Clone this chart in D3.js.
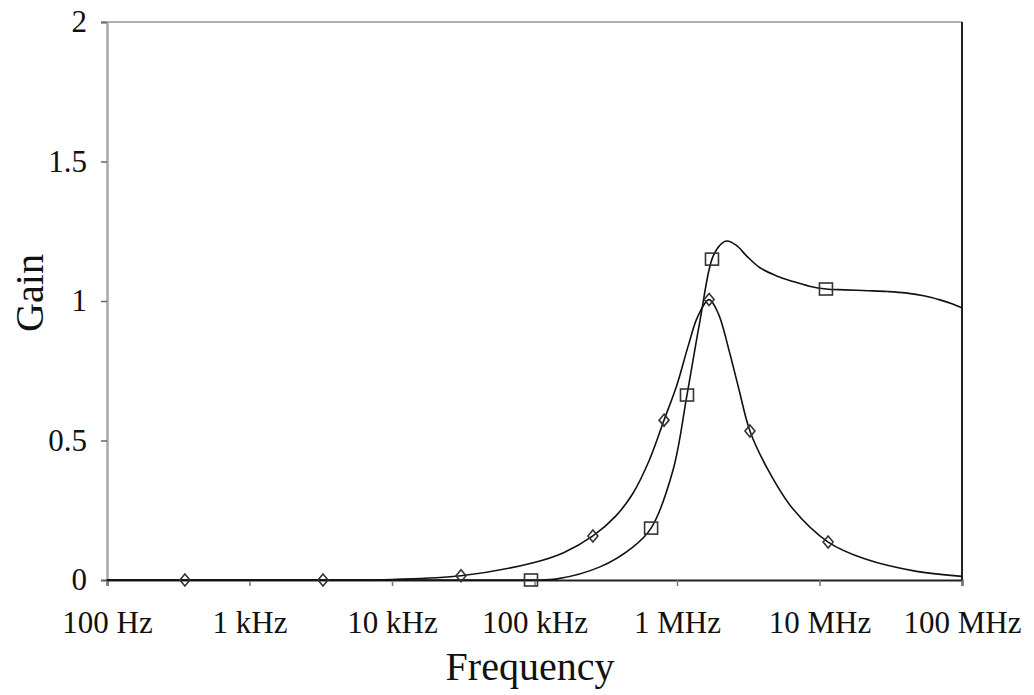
<!DOCTYPE html>
<html>
<head>
<meta charset="utf-8">
<script src="https://cdn.jsdelivr.net/npm/d3@7"></script>
<style>
body { margin: 0; background: #fff; }
</style>
</head>
<body>
<svg id="chart" width="1034" height="695"></svg>
<script>
// x tick values (Hz) and labels
var tickFreqs = [1e2, 1e3, 1e4, 1e5, 1e6, 1e7, 1e8];
var tickLabels = ["100 Hz", "1 kHz", "10 kHz", "100 kHz", "1 MHz", "10 MHz", "100 MHz"];
var gainTicks = [0, 0.5, 1, 1.5, 2];

// diamond series - smoothed curve points [freq, gain]
var diamondCurve = [
	[100, 0], [352, 0], [3280, 0], [10000, 0.002], [30500, 0.015],
	[98000, 0.062], [160000, 0.098], [257000, 0.158], [370000, 0.228],
	[490000, 0.31], [640000, 0.43], [811000, 0.573], [1000000, 0.70],
	[1200000, 0.84], [1400000, 0.945], [1680000, 1.005], [1950000, 0.955],
	[2300000, 0.83], [2700000, 0.69], [3250000, 0.534], [4300000, 0.40],
	[6500000, 0.255], [11500000, 0.136], [21000000, 0.075],
	[48000000, 0.031], [100000000, 0.013]
];
var diamondMarks = [
	[352, 0], [3280, 0], [30500, 0.015], [257000, 0.158], [811000, 0.573],
	[1680000, 1.005], [3250000, 0.534], [11500000, 0.136]
];

// square series
var squareCurve = [
	[100, 0], [30000, 0], [94500, 0], [144000, 0.004], [288000, 0.047],
	[490000, 0.118], [658000, 0.186], [938000, 0.394], [1175000, 0.663],
	[1450000, 0.93], [1760000, 1.15], [2000000, 1.2], [2240000, 1.215],
	[2600000, 1.2], [3100000, 1.16], [3800000, 1.12], [5000000, 1.09],
	[6500000, 1.07], [8500000, 1.053], [11100000, 1.043], [15000000, 1.04],
	[22000000, 1.037], [30000000, 1.034], [40000000, 1.029], [55000000, 1.018],
	[70000000, 1.004], [85000000, 0.99], [100000000, 0.975]
];
var squareMarks = [
	[94500, 0], [658000, 0.186], [1175000, 0.663], [1760000, 1.15], [11100000, 1.043]
];

var svg = d3.select("#chart"),
	margin = {top: 22, right: 72, bottom: 115, left: 107},
	width = 1034 - margin.left - margin.right,
	height = 695 - margin.top - margin.bottom,
	g = svg.append("g").attr("transform", "translate(" + margin.left + "," + margin.top + ")");

var x = d3.scaleLog().domain([1e2, 1e8]).range([0, width]);
var y = d3.scaleLinear().domain([0, 2]).range([height, 0]);

var fontFam = "'Liberation Serif'";

// frame: top grey, right black
g.append("line").attr("x1", 0).attr("x2", width).attr("y1", 0).attr("y2", 0)
	.attr("stroke", "#b0b0b0").attr("stroke-width", 2);
g.append("line").attr("x1", width).attr("x2", width).attr("y1", 0).attr("y2", height)
	.attr("stroke", "#222").attr("stroke-width", 2);

var yAxis = g.append("g")
	.call(d3.axisLeft(y).tickValues(gainTicks).tickSize(6).tickPadding(14)
		.tickFormat(function (d) { return d; }));
yAxis.attr("font-family", null);
yAxis.select(".domain").attr("stroke", "#a8a8a8").attr("stroke-width", 2.5);
yAxis.selectAll(".tick line").attr("stroke", "#666").attr("stroke-width", 1.5);
yAxis.selectAll("text").attr("font-size", "31px").attr("fill", "#111")
	.style("font-family", fontFam);

var xAxis = g.append("g")
	.attr("transform", "translate(0," + height + ")")
	.call(d3.axisBottom(x).tickValues(tickFreqs).tickSize(6).tickPadding(47)
		.tickFormat(function (d, i) { return tickLabels[i]; }));
xAxis.attr("font-family", null);
xAxis.select(".domain").attr("stroke", "#222").attr("stroke-width", 2);
xAxis.selectAll(".tick line").attr("stroke", "#777").attr("stroke-width", 1.5);
xAxis.selectAll("text").attr("font-size", "31px").attr("fill", "#111")
	.attr("dy", "0")
	.style("font-family", fontFam);

var line = d3.line()
	.x(function (d) { return x(d[0]); })
	.y(function (d) { return y(Math.max(0, d[1])); })
	.curve(d3.curveCatmullRom.alpha(0.5));

g.append("path").datum(diamondCurve).attr("d", line)
	.attr("fill", "none").attr("stroke", "#111").attr("stroke-width", 1.6);
g.append("path").datum(squareCurve).attr("d", line)
	.attr("fill", "none").attr("stroke", "#111").attr("stroke-width", 1.6);

g.selectAll(".diamond")
	.data(diamondMarks)
	.enter().append("path")
	.attr("class", "diamond")
	.attr("d", "M0,-6L5,0L0,6L-5,0Z")
	.attr("transform", function (d) { return "translate(" + x(d[0]) + "," + y(d[1]) + ")"; })
	.attr("fill", "none").attr("stroke", "#333").attr("stroke-width", 1.6);

g.selectAll(".square")
	.data(squareMarks)
	.enter().append("rect")
	.attr("class", "square")
	.attr("x", function (d) { return x(d[0]) - 6.5; })
	.attr("y", function (d) { return y(d[1]) - 6; })
	.attr("width", 13).attr("height", 12)
	.attr("fill", "none").attr("stroke", "#333").attr("stroke-width", 1.6);

// axis titles
svg.append("text")
	.attr("text-anchor", "middle")
	.attr("x", 530).attr("y", 680)
	.attr("font-size", "40px")
	.attr("fill", "#111")
	.style("font-family", fontFam)
	.text("Frequency");

svg.append("text")
	.attr("text-anchor", "middle")
	.attr("transform", "translate(43,293) rotate(-90)")
	.attr("font-size", "40px")
	.attr("fill", "#111")
	.style("font-family", fontFam)
	.text("Gain");
</script>
</body>
</html>
